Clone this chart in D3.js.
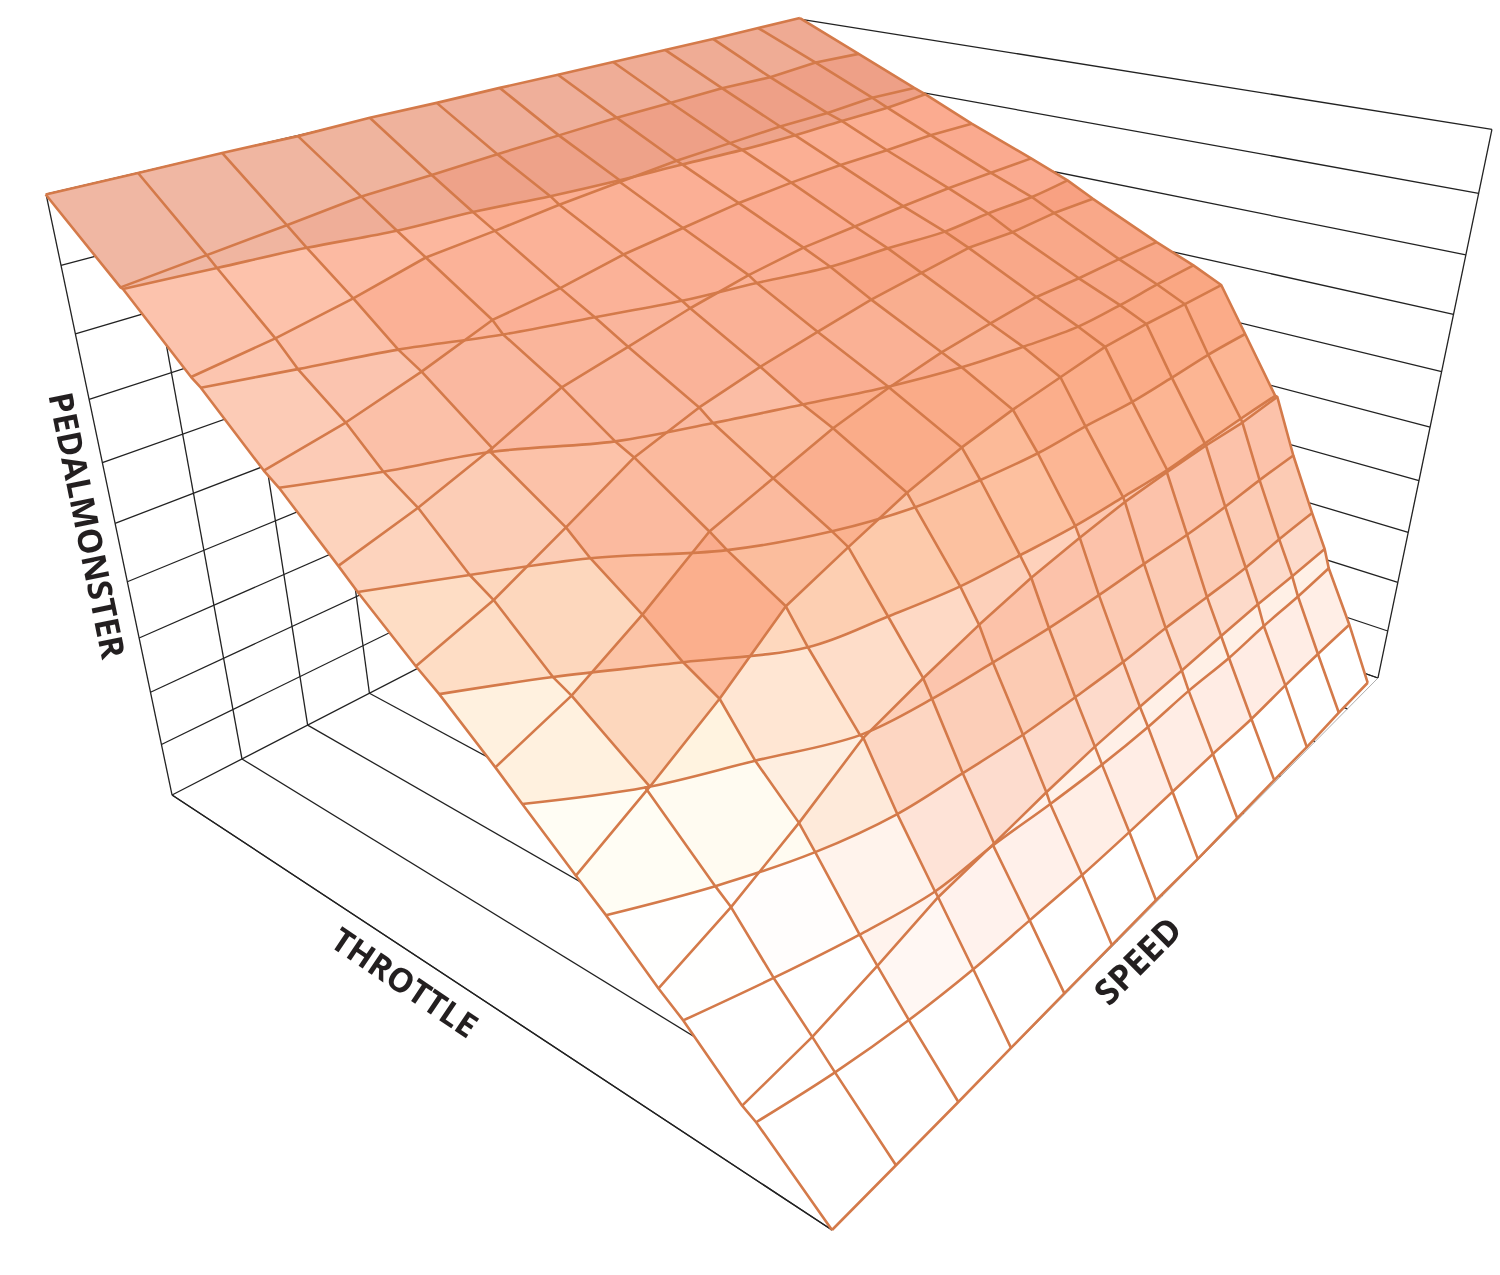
<!DOCTYPE html><html><head><meta charset="utf-8"><style>html,body{margin:0;background:#fff}svg{display:block}</style>
<script src="https://cdn.jsdelivr.net/npm/d3@7"></script></head><body><svg id="c" width="1500" height="1275"></svg><script>
const speedSteps=d3.range(13);
const topThrottle=[1001,994,991,993,992,992,991,992,992,992,994,996,1000];
const topPedal=[999,1002,1004,1002,1005,1004,1005,1004,1004,1004,1003,1003,1002];
const frontThrottle=[0,3,2,6,5,6,7,7,7,7,9,10,12];
const frontPedal=[0,-8,-5,-14,-10,-12,-14,-16,-14,-12,-17,-14,-17];
const throttleLevels=[892,793,694,595,495,395,297,199,102];
const pedalAtThrottle=[
[901,912,923,935,939,944,948,952,953,955,952,957,952],
[808,823,844,870,878,888,895,902,905,908,907,911,906],
[713,736,768,806,818,836,846,856,861,863,862,863,859],
[619,651,691,738,759,781,798,809,812,816,818,817,816],
[522,560,614,670,701,722,738,753,762,771,766,769,765],
[428,468,529,600,631,662,683,699,708,716,713,713,711],
[326,386,452,532,567,600,624,640,651,662,663,661,660],
[221,262,316,379,408,433,453,466,476,479,480,477,482],
[112,124,149,178,189,202,211,215,217,220,222,220,220]];
const pedalLevels=[898,789,684,582,483,381,282,185,87];
const pedalLevelsAtRest=[900,798,697,593,497,393,290,193,99];
const throttleAtPedal=[
[888,877,862,837,827,807,793,784,773,768,769,767,774],
[779,762,728,679,643,607,583,555,545,531,533,530,536],
[673,643,598,521,476,436,396,367,349,335,335,338,339],
[570,527,463,372,318,286,271,261,259,254,255,257,255],
[465,419,343,269,245,225,215,206,202,199,201,202,202],
[362,303,253,203,187,179,172,168,166,163,163,165,165],
[261,218,179,155,145,136,132,129,129,127,125,127,127],
[170,148,124,106,103,96,91,89,90,88,90,90,92],
[86,75,63,56,53,50,49,49,49,48,50,51,51]];
const cellShade=[
[5,6,10,17,24,30,30,39,42,42,42,49],
[5,12,35,45,75,75,75,80,80,80,80,80],
[0,18,65,60,60,65,68,70,70,72,75,80],
[0,34,55,67,60,70,78,80,85,85,85,85],
[0,20,50,55,67,60,70,85,85,85,85,85],
[0,20,74,52,36,70,50,54,64,64,64,64],
[0,70,115,52,72,70,64,40,64,64,64,64],
[0,0,0,0,0,20,15,45,45,50,50,50],
[0,0,10,40,55,60,55,55,55,55,55,55],
[0,0,0,0,0,0,0,0,0,0,0,0]];
const axisLabels=['PEDALMONSTER','THROTTLE','SPEED'];
const pedalTicks=d3.range(0,1001,100);

const sX=d3.scaleLinear().domain([0,12]).range([0,1]),tX=d3.scaleLinear().domain([0,1000]).range([0,1]),zX=d3.scaleLinear().domain([0,1000]).range([0,1]);
const cam={c:[.5363,.3765,-.241],a:[1285,-595.2,-184.5],b:[-188.4,-135.7,-874],o:[832,1230]};
function proj(sp,th,pe){const s=sX(sp),t=tX(th),z=zX(pe),w=1+cam.c[0]*s+cam.c[1]*t+cam.c[2]*z;return[(cam.o[0]+cam.a[0]*s+cam.a[1]*t+cam.a[2]*z)/w,(cam.o[1]+cam.b[0]*s+cam.b[1]*t+cam.b[2]*z)/w]}
const svg=d3.select('#c');
const grid=svg.append('g').attr('stroke','#222').attr('stroke-width',1.3).attr('fill','none');
const ln=(a,b)=>grid.append('line').attr('x1',a[0]).attr('y1',a[1]).attr('x2',b[0]).attr('y2',b[1]);
pedalTicks.forEach(z=>{ln(proj(0,1000,z),proj(12,1000,z));ln(proj(12,0,z),proj(12,1000,z));});
speedSteps.forEach(i=>{ln(proj(i,1000,0),proj(i,1000,1000));ln(proj(i,1000,0),proj(i,0,0));});
ln(proj(0,1000,0),proj(0,0,0));ln(proj(0,0,0),proj(12,0,0)).attr('stroke','#999').attr('stroke-width',.8);ln(proj(12,0,0),proj(12,0,1000));

const rowTop=speedSteps.map(i=>({s:i,t:topThrottle[i],z:topPedal[i]})),rowFront=speedSteps.map(i=>({s:i,t:frontThrottle[i],z:frontPedal[i]}));
const meshA=[rowTop,...throttleLevels.map((t,k)=>speedSteps.map(i=>({s:i,t,z:pedalAtThrottle[k][i]}))),rowFront];
const meshB=[rowTop,...pedalLevels.map((z,k)=>speedSteps.map(i=>({s:i,t:throttleAtPedal[k][i],z:i?z:pedalLevelsAtRest[k]}))),rowFront];
const xy=d=>proj(d.s,d.t,d.z);
const lowRamp=d3.scaleLinear().domain([230,330,430,530,630,740,840,950]).range(['#ffffff','#fffef5','#fff3e1','#fedec6','#fdd4be','#fccbb6','#fdc6b0','#f0b9a5']).clamp(true);
const highRamp=d3.scaleLinear().domain([35,130,230,330,430,530,630,740,950]).range(['#ffffff','rgb(255,232,222)','rgb(255,240,230)','rgb(254,223,205)','rgb(254,214,195)','rgb(253,197,165)','rgb(252,185,150)','rgb(250,175,140)','rgb(240,175,155)']).clamp(true);
const gain=d3.scaleLinear().domain([.25,.55]).range([0,1]).clamp(true);
const toneRamp=d3.scaleLinear().domain([0,100]).range(['#ffffff','#fcd5c6']);
const under=svg.append('g'),layerB=svg.append('g'),layerA=svg.append('g');
const cols=speedSteps.map(i=>[...meshA.map(r=>r[i]),...meshB.slice(1,-1).map(r=>r[i])].sort((a,b)=>xy(a)[1]-xy(b)[1]));
function between(i,a,b){const ya=xy(a)[1],yb=xy(b)[1],lo=Math.min(ya,yb),hi=Math.max(ya,yb);const c=cols[i].filter(d=>{const y=xy(d)[1];return y>lo&&y<hi});return ya<yb?c:c.reverse()}
const cells=(mesh,fn)=>{for(let k=0;k<mesh.length-1;k++)for(let i=0;i<12;i++)fn([mesh[k][i],mesh[k][i+1],...between(i+1,mesh[k][i+1],mesh[k+1][i+1]),mesh[k+1][i+1],mesh[k+1][i],...between(i,mesh[k+1][i],mesh[k][i])],[mesh[k][i],mesh[k][i+1],mesh[k+1][i+1],mesh[k+1][i]],k,i)};
const poly=(g,c,f)=>g.append('polygon').attr('points',c.map(xy).join(' ')).attr('fill',f);
cells(meshA,c=>poly(under,c,'#fff').attr('stroke','#fff').attr('stroke-width',.6));
cells(meshB,c=>poly(under,c,'#fff').attr('stroke','#fff').attr('stroke-width',.6));
cells(meshB,(c,q)=>{const z=d3.mean(q,d=>d.z),t=d3.mean(q,d=>d.t);poly(layerB,c,d3.interpolateRgb(lowRamp(z),highRamp(z))(gain(1-t/z))).style('mix-blend-mode','multiply')});
cells(meshA,(c,q,k,i)=>poly(layerA,c,toneRamp(cellShade[k][i])).style('mix-blend-mode','multiply'));
const lines=svg.append('g').attr('fill','none').attr('stroke','#d47a4a').attr('stroke-width',2.6).attr('stroke-linejoin','round');
const lL=d3.line().x(d=>xy(d)[0]).y(d=>xy(d)[1]),lC=d3.line().x(d=>xy(d)[0]).y(d=>xy(d)[1]).curve(d3.curveCatmullRom.alpha(.5));
meshA.forEach(r=>lines.append('path').attr('d',lL(r)));
meshB.slice(1,-1).forEach(r=>lines.append('path').attr('d',lC(r)));
cols.forEach(col=>lines.append('path').attr('d',lL(col)));
[[0,84,526,78.5,33.5],[1,403,985,34,33],[2,1140,963,-45,35]].forEach(([k,x,y,r,f])=>svg.append('text').text(axisLabels[k]).attr('transform',`translate(${x},${y}) rotate(${r})`).attr('text-anchor','middle').attr('dominant-baseline','middle').attr('font-family','Open Sans').attr('font-weight',700).attr('font-size',f).attr('fill','#231f20'));
</script></body></html>
